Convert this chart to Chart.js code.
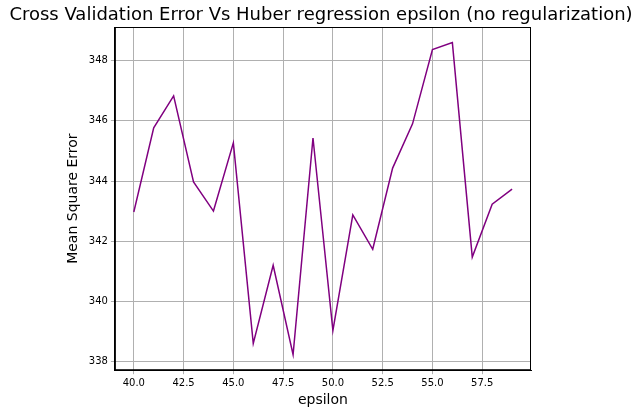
<!DOCTYPE html>
<html><head><script src="https://cdn.jsdelivr.net/npm/chart.js@4"></script>
<style>body{margin:0;background:#fff}</style></head>
<body><canvas id="c" width="643" height="411"></canvas>
<script>
const epsilon=[40,41,42,43,44,45,46,47,48,49,50,51,52,53,54,55,56,57,58,59];
const mse=[342.97,345.77,346.83,343.97,343.0,345.27,338.6,341.2,338.23,345.43,339.03,342.87,341.73,344.43,345.9,348.37,348.6,341.47,343.23,343.73];
const xTicks=[40,42.5,45,47.5,50,52.5,55,57.5];
const yTicks=[338,340,342,344,346,348];
const titleText='Cross Validation Error Vs Huber regression epsilon (no regularization)';
Chart.defaults.font.family='DejaVu Sans';
Chart.defaults.color='#000';
const deco={id:'deco',afterDraw(ch){const c=ch.ctx,a=ch.chartArea;c.save();
c.strokeStyle='#000';c.lineWidth=1;c.strokeRect(a.left+0.5,a.top+0.5,a.right-a.left-1,a.bottom-a.top-1);
c.fillStyle='#000';c.font='18px "DejaVu Sans"';c.textAlign='center';c.textBaseline='middle';
c.fillText(titleText,321,15);c.restore();}};
new Chart(document.getElementById('c'),{
type:'line',
data:{datasets:[{data:epsilon.map((x,i)=>({x,y:mse[i]})),borderColor:'purple',borderWidth:1.5,pointRadius:0,tension:0}]},
plugins:[deco],
options:{responsive:false,animation:false,
layout:{padding:{left:61,right:112,top:27,bottom:2}},
plugins:{legend:{display:false},title:{display:false}},
scales:{
x:{type:'linear',min:39.05,max:59.95,afterBuildTicks:a=>{a.ticks=xTicks.map(v=>({value:v}))},
ticks:{callback:v=>v.toFixed(1),font:{size:10},maxRotation:0},
grid:{color:'#b0b0b0',tickLength:4},border:{color:'#000'},
title:{display:true,text:'epsilon',font:{size:14},padding:{top:0,bottom:0}}},
y:{min:337.71,max:349.12,afterBuildTicks:a=>{a.ticks=yTicks.map(v=>({value:v}))},
ticks:{font:{size:10}},grid:{color:'#b0b0b0',tickLength:4},border:{color:'#000'},
title:{display:true,text:'Mean Square Error',font:{size:14}}}
}}});
</script></body></html>
